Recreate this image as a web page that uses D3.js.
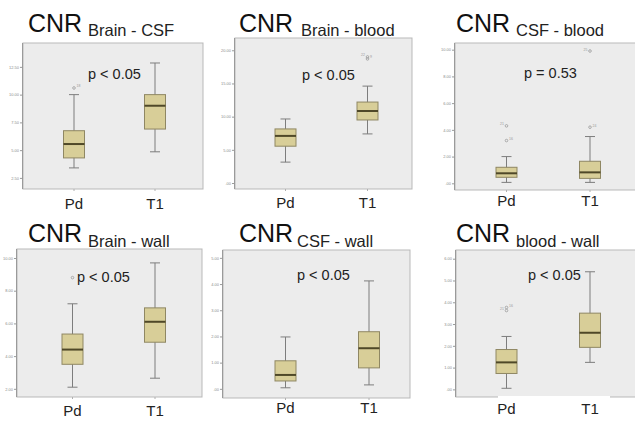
<!DOCTYPE html>
<html>
<head>
<meta charset="utf-8">
<script src="https://cdn.jsdelivr.net/npm/d3@7"></script>
<style>
  html, body { margin: 0; padding: 0; background: #fff; }
  svg { display: block; font-family: "Liberation Sans", Arial, sans-serif; }
</style>
</head>
<body>
<svg id="chart" width="635" height="421"></svg>
<script>
// Groups compared in every panel
const groups = ["Pd", "T1"];
const titles = ["Brain - CSF", "Brain - blood", "CSF - blood", "Brain - wall", "CSF - wall", "blood - wall"];
const pValues = ["p < 0.05", "p < 0.05", "p = 0.53", "p < 0.05", "p < 0.05", "p < 0.05"];

// Five-number summaries per group: [min, q1, median, q3, max]
const brainCsf   = [[3.4, 4.3, 5.55, 6.75, 10.0], [4.85, 6.9, 9.0, 10.0, 12.85]];
const brainBlood = [[3.15, 5.55, 7.1, 8.15, 9.65], [7.4, 9.5, 10.85, 12.2, 14.6]];
const csfBlood   = [[0.07, 0.45, 0.75, 1.2, 2.0], [0.07, 0.37, 0.82, 1.65, 3.5]];
const brainWall  = [[2.1, 3.5, 4.4, 5.35, 7.2], [2.65, 4.85, 6.1, 6.95, 9.7]];
const csfWall    = [[0.04, 0.3, 0.53, 1.07, 1.98], [0.15, 0.8, 1.55, 2.18, 4.12]];
const bloodWall  = [[0.05, 0.73, 1.24, 1.83, 2.43], [1.24, 1.93, 2.6, 3.5, 5.4]];

// Outlying cases: [group index, value, case label]
const brainCsfOut   = [[0, 10.6, "18"]];
const brainBloodOut = [[1, 18.7, "9"], [1, 19.0, "22"]];
const csfBloodOut   = [[0, 3.2, "16"], [0, 4.3, "21"], [1, 4.2, "24"], [1, 9.9, "25"]];
const brainWallOut  = [[0, 8.8, ""]];
const csfWallOut    = [];
const bloodWallOut  = [[0, 3.76, "16"], [0, 3.62, "21"]];

// Value axes: domain and tick values
const brainCsfDomain = [1.5, 14.65],   brainCsfTicks = [2.5, 5, 7.5, 10, 12.5];
const brainBloodDomain = [-0.9, 21.85], brainBloodTicks = [0, 5, 10, 15, 20];
const csfBloodDomain = [-0.5, 10.5],   csfBloodTicks = [0, 2, 4, 6, 8, 10];
const brainWallDomain = [1.5, 10.55],  brainWallTicks = [2, 4, 6, 8, 10];
const csfWallDomain = [-0.35, 5.3],    csfWallTicks = [0, 1, 2, 3, 4, 5];
const bloodWallDomain = [-0.35, 6.4],  bloodWallTicks = [0, 1, 2, 3, 4, 5, 6];

const series   = [brainCsf, brainBlood, csfBlood, brainWall, csfWall, bloodWall];
const outliers = [brainCsfOut, brainBloodOut, csfBloodOut, brainWallOut, csfWallOut, bloodWallOut];
const domains  = [brainCsfDomain, brainBloodDomain, csfBloodDomain, brainWallDomain, csfWallDomain, bloodWallDomain];
const tickSets = [brainCsfTicks, brainBloodTicks, csfBloodTicks, brainWallTicks, csfWallTicks, bloodWallTicks];

// Panel geometry: frame [x0, y0, x1, y1], category centres, text anchors
const layout = [
  { frame: [23, 43, 203, 189],  cx: [74, 155],     title: [28, 32],   sub: [88, 36],   p: [88, 79],   xl: 209 },
  { frame: [235, 38, 412, 189], cx: [285.5, 367.5], title: [239, 32], sub: [301, 36],  p: [302, 80],  xl: 208 },
  { frame: [455, 43, 640, 190], cx: [506.5, 590],  title: [456, 32],  sub: [516, 36],  p: [524, 78],  xl: 206 },
  { frame: [17, 249, 202, 397], cx: [72.5, 155],   title: [28, 242],  sub: [88, 247],  p: [77, 282],  xl: 416 },
  { frame: [223, 250, 410, 398], cx: [285.5, 369], title: [239, 242], sub: [297, 247], p: [297, 280], xl: 413 },
  { frame: [456, 250, 640, 397], cx: [506.5, 590], title: [456, 242], sub: [516, 247], p: [528, 280], xl: 414, mask: [498, 610] }
];

const svg = d3.select("#chart");
const fmt = v => d3.format(".2f")(v).replace(/^0\./, ".").replace(/^-0\./, "-.");

const boxW = 21, capW = 10;

layout.forEach((L, i) => {
  const [x0, y0, x1, y1] = L.frame;
  const g = svg.append("g");

  const x = d3.scalePoint().domain(groups).range(L.cx);
  const y = d3.scaleLinear().domain(domains[i]).range([y1, y0]);

  // plot area
  g.append("rect")
    .attr("x", x0).attr("y", y0).attr("width", x1 - x0).attr("height", y1 - y0)
    .attr("fill", "#ececec").attr("stroke", "#b9b9b9").attr("stroke-width", 1);

  // value axis
  const axis = d3.axisLeft(y).tickValues(tickSets[i]).tickSize(3).tickPadding(1).tickFormat(fmt);
  const ax = g.append("g").attr("transform", `translate(${x0},0)`).call(axis);
  ax.select(".domain").attr("stroke", "#9a9a9a").attr("d", `M-0.5,${y0}V${y1}`);
  ax.selectAll(".tick line").attr("stroke", "#9a9a9a");
  ax.selectAll(".tick text").attr("fill", "#8c8c8c").attr("font-size", 4).attr("font-family", "Liberation Sans, Arial, sans-serif");

  // category ticks under the frame
  g.selectAll(".ctick").data(groups).enter().append("line")
    .attr("x1", d => x(d)).attr("x2", d => x(d))
    .attr("y1", y1).attr("y2", y1 + 2)
    .attr("stroke", "#b0b0b0");

  // boxes
  const stats = series[i];
  const bg = g.selectAll(".bx").data(stats).enter().append("g");
  bg.append("line")
    .attr("x1", (d, j) => x(groups[j])).attr("x2", (d, j) => x(groups[j]))
    .attr("y1", d => y(d[0])).attr("y2", d => y(d[4]))
    .attr("stroke", "#7d7d7d").attr("stroke-width", 1);
  [0, 4].forEach(k => {
    bg.append("line")
      .attr("x1", (d, j) => x(groups[j]) - capW / 2).attr("x2", (d, j) => x(groups[j]) + capW / 2)
      .attr("y1", d => y(d[k])).attr("y2", d => y(d[k]))
      .attr("stroke", "#7d7d7d").attr("stroke-width", 1);
  });
  bg.append("rect")
    .attr("x", (d, j) => x(groups[j]) - boxW / 2).attr("width", boxW)
    .attr("y", d => y(d[3])).attr("height", d => y(d[1]) - y(d[3]))
    .attr("fill", "#d8ce98").attr("stroke", "#8f8763").attr("stroke-width", 1);
  bg.append("line")
    .attr("x1", (d, j) => x(groups[j]) - boxW / 2).attr("x2", (d, j) => x(groups[j]) + boxW / 2)
    .attr("y1", d => y(d[2])).attr("y2", d => y(d[2]))
    .attr("stroke", "#4f4828").attr("stroke-width", 2);

  // outlying cases; labels of neighbouring cases alternate sides
  const og = g.selectAll(".out").data(outliers[i]).enter().append("g");
  og.append("circle")
    .attr("cx", d => x(groups[d[0]])).attr("cy", d => y(d[1])).attr("r", 1.3)
    .attr("fill", "none").attr("stroke", "#9a9a9a").attr("stroke-width", 0.8);
  og.append("text")
    .attr("x", (d, k) => x(groups[d[0]]) + (k % 2 ? -2.5 : 2.5))
    .attr("text-anchor", (d, k) => (k % 2 ? "end" : "start"))
    .attr("y", d => y(d[1]) - 0.5)
    .attr("font-size", 3.5).attr("fill", "#9a9a9a").text(d => d[2]);

  // white band behind the group labels where the frame line is interrupted
  if (L.mask) {
    g.append("rect").attr("x", L.mask[0]).attr("y", y1 - 1).attr("width", L.mask[1] - L.mask[0]).attr("height", 22)
      .attr("fill", "#fff");
  }

  // group labels
  g.selectAll(".xl").data(groups).enter().append("text")
    .attr("x", d => x(d)).attr("y", L.xl).attr("text-anchor", "middle")
    .attr("font-size", 15).attr("fill", "#222").text(d => d);

  // p-value
  g.append("text").attr("x", L.p[0]).attr("y", L.p[1])
    .attr("font-size", 14.5).attr("fill", "#222").text(pValues[i]);

  // title with subscript
  g.append("text").attr("x", L.title[0]).attr("y", L.title[1])
    .attr("font-size", 25).attr("fill", "#111").text("CNR");
  g.append("text").attr("x", L.sub[0]).attr("y", L.sub[1])
    .attr("font-size", 16.5).attr("fill", "#222").text(titles[i]);
});
</script>
</body>
</html>
